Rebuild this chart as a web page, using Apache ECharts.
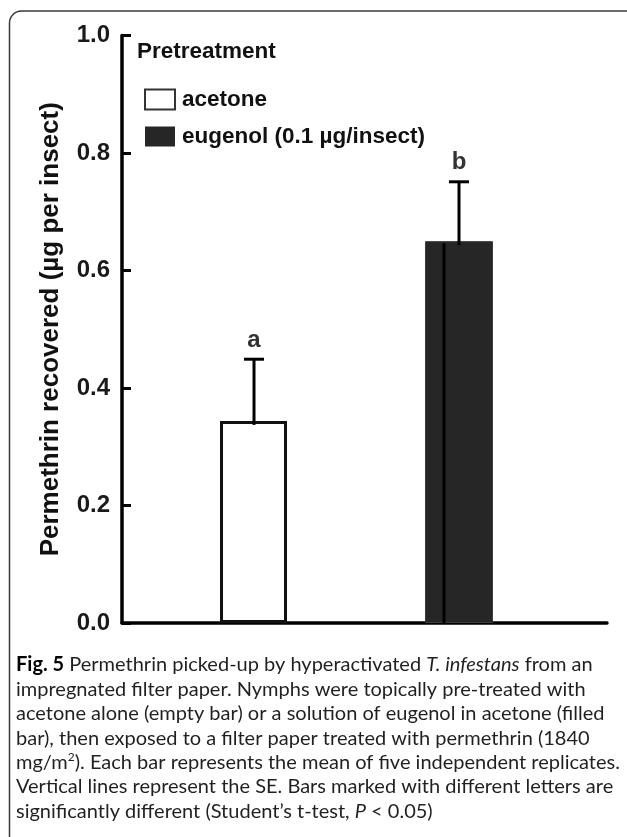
<!DOCTYPE html>
<html>
<head>
<meta charset="utf-8">
<script src="https://cdn.jsdelivr.net/npm/echarts@6/dist/echarts.min.js"></script>
<style>
  html, body { margin: 0; padding: 0; background: #fff; }
  #chart { width: 627px; height: 837px; }
</style>
</head>
<body>
<div id="chart"></div>
<script>
// ---- data ----
const categories = ['acetone', 'eugenol (0.1 \u00b5g/insect)'];
const xPositions = [1, 2];
const means = [0.344, 0.650];
const upperSE = [0.449, 0.751];
const letters = ['a', 'b'];
const yTicks = [0, 0.2, 0.4, 0.6, 0.8, 1.0];
const legendTitle = 'Pretreatment';
const yAxisTitle = 'Permethrin recovered (\u00b5g per insect)';
const captionLines = [
  '{b|Fig. 5} Permethrin picked-up by hyperactivated {i|T. infestans} from an',
  'impregnated filter paper. Nymphs were topically pre-treated with',
  'acetone alone (empty bar) or a solution of eugenol in acetone (filled',
  'bar), then exposed to a filter paper treated with permethrin (1840',
  'mg/m{sup|2}). Each bar represents the mean of five independent replicates.',
  'Vertical lines represent the SE. Bars marked with different letters are',
  'significantly different (Student\u2019s t-test, {i|P} < 0.05)'
];

const FONT = "'Liberation Sans', Arial, Helvetica, sans-serif";
const CAP_FONT = "Lato, 'Open Sans', sans-serif";
const CAP_SIZE = 20;

const chart = echarts.init(document.getElementById('chart'), null, { renderer: 'canvas' });

const errData = xPositions.map((x, i) => [x, means[i], upperSE[i], i]);

const capGraphics = captionLines.map((line, i) => ({
  type: 'text',
  x: 16,
  y: 665 + i * 24.4,
  style: {
    text: line,
    fill: '#231f20',
    font: CAP_SIZE + 'px ' + CAP_FONT,
    verticalAlign: 'middle',
    rich: {
      b: { fontWeight: 'bold', fontFamily: CAP_FONT, fontSize: CAP_SIZE, fill: '#000' },
      i: { fontStyle: 'italic', fontFamily: CAP_FONT, fontSize: CAP_SIZE, fill: '#231f20' },
      sup: { fontFamily: CAP_FONT, fontSize: 12, fill: '#231f20', verticalAlign: 'top', padding: [0, 0, 10, 0] }
    }
  }
}));

const option = {
  animation: false,
  backgroundColor: '#fff',
  grid: { left: 122, right: 20, top: 35.5, bottom: 214, containLabel: false },
  xAxis: {
    type: 'value',
    min: 0.356,
    max: 2.722,
    axisLine: { show: true, onZero: false, lineStyle: { color: '#000', width: 3.5 } },
    axisTick: { show: false },
    axisLabel: { show: false },
    splitLine: { show: false }
  },
  yAxis: {
    type: 'value',
    min: yTicks[0],
    max: yTicks[yTicks.length - 1],
    interval: 0.2,
    name: yAxisTitle,
    nameLocation: 'middle',
    nameRotate: 90,
    nameGap: 58,
    nameTextStyle: { fontFamily: FONT, fontWeight: 'bold', fontSize: 26, color: '#111' },
    axisLine: { show: true, lineStyle: { color: '#000', width: 3.5 } },
    axisTick: { show: true, inside: true, length: 9, lineStyle: { color: '#000', width: 3 } },
    axisLabel: {
      margin: 12,
      fontFamily: FONT, fontWeight: 'bold', fontSize: 24, color: '#1a1a1a',
      formatter: v => v.toFixed(1)
    },
    splitLine: { show: false }
  },
  legend: {
    orient: 'vertical',
    left: 139,
    top: 83,
    itemWidth: 30,
    itemHeight: 20,
    itemGap: 14,
    icon: 'rect',
    textStyle: { fontFamily: FONT, fontWeight: 'bold', fontSize: 22.5, color: '#111', padding: [0, 0, 0, 2] },
    data: [
      { name: categories[0], itemStyle: { color: '#fff', borderColor: '#333', borderWidth: 2 } },
      { name: categories[1], itemStyle: { color: '#262626', borderColor: '#262626', borderWidth: 0 } }
    ]
  },
  graphic: [
    {
      type: 'rect',
      shape: { x: 9.5, y: 11, width: 700, height: 900, r: 12 },
      style: { fill: 'none', stroke: '#3a3a3a', lineWidth: 1.5 },
      silent: true
    },
    {
      type: 'text',
      x: 137,
      y: 52,
      style: { text: legendTitle, font: 'bold 22.5px ' + FONT, fill: '#111', verticalAlign: 'middle' }
    }
  ].concat(capGraphics),
  series: [
    {
      name: categories[0],
      type: 'bar',
      barWidth: 67,
      barGap: '-100%',
      data: [[xPositions[0], means[0]]],
      itemStyle: { color: '#fff', borderColor: '#111', borderWidth: 3 },
      z: 2
    },
    {
      name: categories[1],
      type: 'bar',
      barWidth: 68,
      barGap: '-100%',
      data: [[xPositions[1], means[1]]],
      itemStyle: { color: '#262626', borderColor: '#3c3c3c', borderWidth: 1 },
      z: 2
    },
    {
      name: 'SE',
      type: 'custom',
      z: 5,
      encode: { x: 0, y: [1, 2] },
      data: errData,
      renderItem: function (params, api) {
        const x = api.value(0), m = api.value(1), h = api.value(2), idx = api.value(3);
        const pTop = api.coord([x, h]);
        const pMean = api.coord([x, m]);
        const pZero = api.coord([x, 0]);
        const lineStyle = { stroke: '#000', lineWidth: 3 };
        const children = [
          { type: 'line', shape: { x1: pTop[0], y1: pTop[1], x2: pMean[0], y2: pMean[1] + 4 }, style: lineStyle },
          { type: 'line', shape: { x1: pTop[0] - 10, y1: pTop[1], x2: pTop[0] + 10, y2: pTop[1] }, style: lineStyle },
          { type: 'text', x: pTop[0], y: pTop[1] - 19,
            style: { text: letters[idx], font: 'bold 24px ' + FONT, fill: '#333', align: 'center', verticalAlign: 'middle' } }
        ];
        if (idx === 1) {
          // lower whisker drawn inside the filled bar (offset, as in the original)
          children.push({ type: 'line', shape: { x1: pMean[0] - 15, y1: pMean[1] + 2, x2: pZero[0] - 15, y2: pZero[1] }, style: lineStyle });
        }
        return { type: 'group', children: children };
      }
    }
  ]
};

chart.setOption(option);
</script>
</body>
</html>
